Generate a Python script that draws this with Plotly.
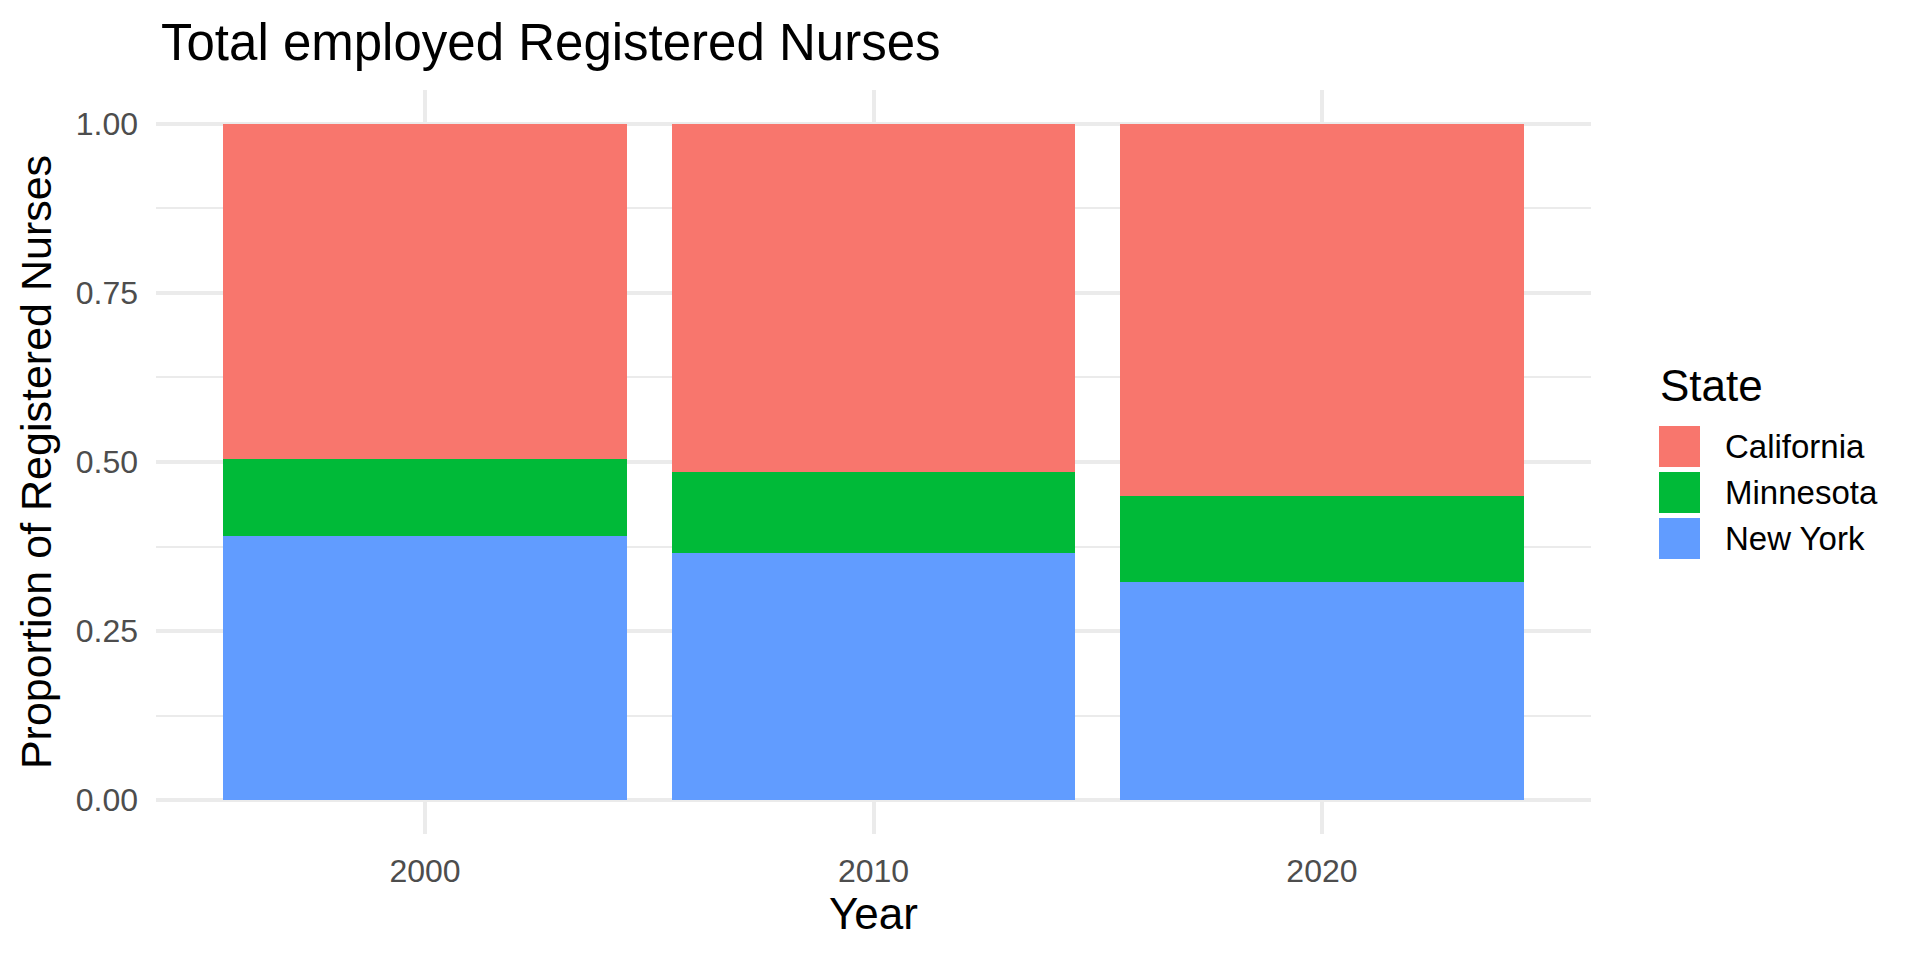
import plotly.graph_objects as go

# proportions
years = ["2000", "2010", "2020"]
states = ["New York", "Minnesota", "California"]
new_york = [0.390, 0.365, 0.322]
minnesota = [0.114, 0.120, 0.127]
california = [0.496, 0.515, 0.551]
colors = {"California": "#F8766D", "Minnesota": "#00BA38", "New York": "#619CFF"}

values = {"New York": new_york, "Minnesota": minnesota, "California": california}

FONT = "Liberation Sans, Arial, sans-serif"
GRID = "#EBEBEB"

# panel box in pixels
L, R, T, B = 148, 1583, 82, 826

fig = go.Figure()

# New York first so it sits at the bottom of each stack
for st in states:
  fig.add_trace(go.Bar(
    x = years,
    y = values[st],
    name = st,
    marker = dict(color = colors[st], line = dict(width = 0)),
    showlegend = False
  ))

# ggplot-style legend: big square keys drawn to the right of the panel
def px_x(px):
  return (px - L) / float(R - L)

def px_y(py):
  return (B - py) / float(B - T)

legend_order = ["California", "Minnesota", "New York"]
shapes = []
annotations = [dict(
  text = "State", xref = "paper", yref = "paper",
  x = px_x(1650), y = px_y(377), xanchor = "left", yanchor = "middle",
  showarrow = False, font = dict(family = FONT, size = 44, color = "black")
)]
for i, st in enumerate(legend_order):
  top = 418 + i * 46
  shapes.append(dict(
    type = "rect", xref = "paper", yref = "paper",
    x0 = px_x(1651), x1 = px_x(1692), y0 = px_y(top + 41), y1 = px_y(top),
    fillcolor = colors[st], line = dict(width = 0), layer = "above"
  ))
  annotations.append(dict(
    text = st, xref = "paper", yref = "paper",
    x = px_x(1715), y = px_y(top + 20.5), xanchor = "left", yanchor = "middle",
    showarrow = False, font = dict(family = FONT, size = 33, color = "black")
  ))

fig.update_layout(
  width = 1920,
  height = 960,
  barmode = "stack",
  bargap = 0.1,
  plot_bgcolor = "white",
  paper_bgcolor = "white",
  margin = dict(l = L, r = 1920 - R, t = T, b = 960 - B),
  font = dict(family = FONT, color = "black"),
  title = dict(
    text = "Total employed Registered Nurses",
    x = 153 / 1920.0, xanchor = "left", xref = "container",
    y = 1 - 34.5 / 960.0, yanchor = "middle", yref = "container",
    font = dict(family = FONT, size = 51, color = "black")
  ),
  shapes = shapes,
  annotations = annotations,
  xaxis = dict(
    type = "category",
    range = [-0.6, 2.6],
    showgrid = True, gridcolor = GRID, gridwidth = 3.5,
    zeroline = False, showline = False, ticks = "",
    ticklabelstandoff = 15,
    tickfont = dict(family = FONT, size = 32, color = "#4D4D4D"),
    title = dict(text = "Year", standoff = 4,
                 font = dict(family = FONT, size = 44, color = "black"))
  ),
  yaxis = dict(
    range = [-0.05, 1.05],
    tickmode = "array",
    tickvals = [0, 0.25, 0.5, 0.75, 1.0],
    ticktext = ["0.00", "0.25", "0.50", "0.75", "1.00"],
    showgrid = True, gridcolor = GRID, gridwidth = 3.5,
    minor = dict(tickvals = [0.125, 0.375, 0.625, 0.875], showgrid = True,
                 gridcolor = GRID, gridwidth = 1.8, ticks = ""),
    zeroline = False, showline = False, ticks = "",
    ticklabelstandoff = 17,
    tickfont = dict(family = FONT, size = 32, color = "#4D4D4D"),
    title = dict(text = "Proportion of Registered Nurses", standoff = 10,
                 font = dict(family = FONT, size = 43, color = "black"))
  )
)

fig.write_html("out.html")
